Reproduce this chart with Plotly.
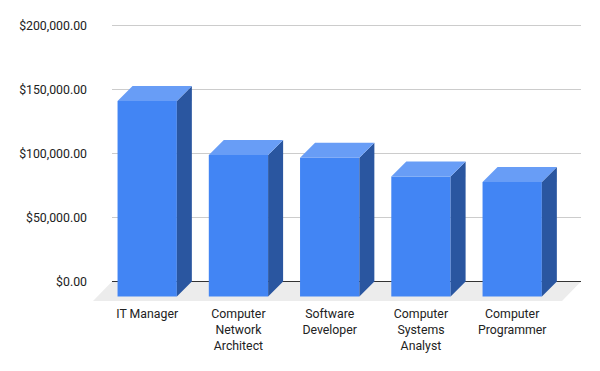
import plotly.graph_objects as go

categories = ["IT Manager", "Computer<br>Network<br>Architect", "Software<br>Developer",
              "Computer<br>Systems<br>Analyst", "Computer<br>Programmer"]
salaries = [152700, 110600, 108400, 93700, 89500]
y_ticks = [0, 50000, 100000, 150000, 200000]
y_tick_labels = ["$0.00", "$50,000.00", "$100,000.00", "$150,000.00", "$200,000.00"]

FRONT, TOP, SIDE = "#4285f4", "#689df6", "#2a56a0"
W, H = 600, 371
L, R, T, B = 93, 581, 20, 301     # plot rectangle in page pixels
STEP, C0 = 91.25, 147.2           # px between categories, px of first centre
PX_PER_UNIT = 64 / 50000
Y0 = 281.5                        # page pixel of value 0

x_range = [(L - C0) / STEP, (R - C0) / STEP]
y_range = [(Y0 - B) / PX_PER_UNIT, (Y0 - T) / PX_PER_UNIT]
bar_w = 59.3 / STEP
dx, dy = 15 / STEP, 15 / PX_PER_UNIT       # bar depth
floor_dx, floor_dy = 19 / STEP, 19.5 / PX_PER_UNIT
xs = list(range(len(categories)))

fig = go.Figure()
fig.add_bar(x=xs, y=salaries, base=[-dy] * len(xs), width=bar_w,
            marker=dict(color=FRONT, line_width=0), showlegend=False)

for i, v in zip(xs, salaries):
    a, b = i - bar_w / 2, i + bar_w / 2
    fig.add_scatter(x=[b, b + dx, b + dx, b, b], y=[-dy, 0, v, v - dy, -dy], mode="lines",
                    fill="toself", fillcolor=SIDE, line=dict(width=0), showlegend=False)
    fig.add_scatter(x=[a, a + dx, b + dx, b, a], y=[v - dy, v, v, v - dy, v - dy], mode="lines",
                    fill="toself", fillcolor=TOP, line=dict(width=0), showlegend=False)

back_left, back_right = x_range[0] + floor_dx, x_range[1]
shapes = [dict(type="path", layer="below", xref="x", yref="y", line_width=0, fillcolor="#ececec",
               path=f"M{back_left},0 L{back_right},0 L{back_right - floor_dx},{-floor_dy} "
                    f"L{x_range[0]},{-floor_dy} Z")]
for t in y_ticks:
    shapes.append(dict(type="line", layer="below", xref="x", yref="y", x0=back_left, x1=back_right,
                       y0=t, y1=t, line=dict(color="#333333" if t == 0 else "#cccccc", width=1)))

fig.update_layout(
    width=W, height=H, paper_bgcolor="white", plot_bgcolor="white",
    margin=dict(l=L, r=W - R, t=T, b=H - B, pad=0),
    font=dict(family="Roboto", size=12.3, color="#222222"),
    shapes=shapes, showlegend=False,
    xaxis=dict(range=x_range, tickvals=xs, ticktext=categories, showgrid=False, zeroline=False,
               showline=False, ticks="", ticklabelstandoff=4),
    yaxis=dict(range=y_range, tickvals=y_ticks, ticktext=y_tick_labels, showgrid=False,
               zeroline=False, showline=False, ticks="", ticklabelstandoff=5),
)
fig.write_html("out.html", config={"displayModeBar": False},
               post_script="document.body.style.margin='0';")
